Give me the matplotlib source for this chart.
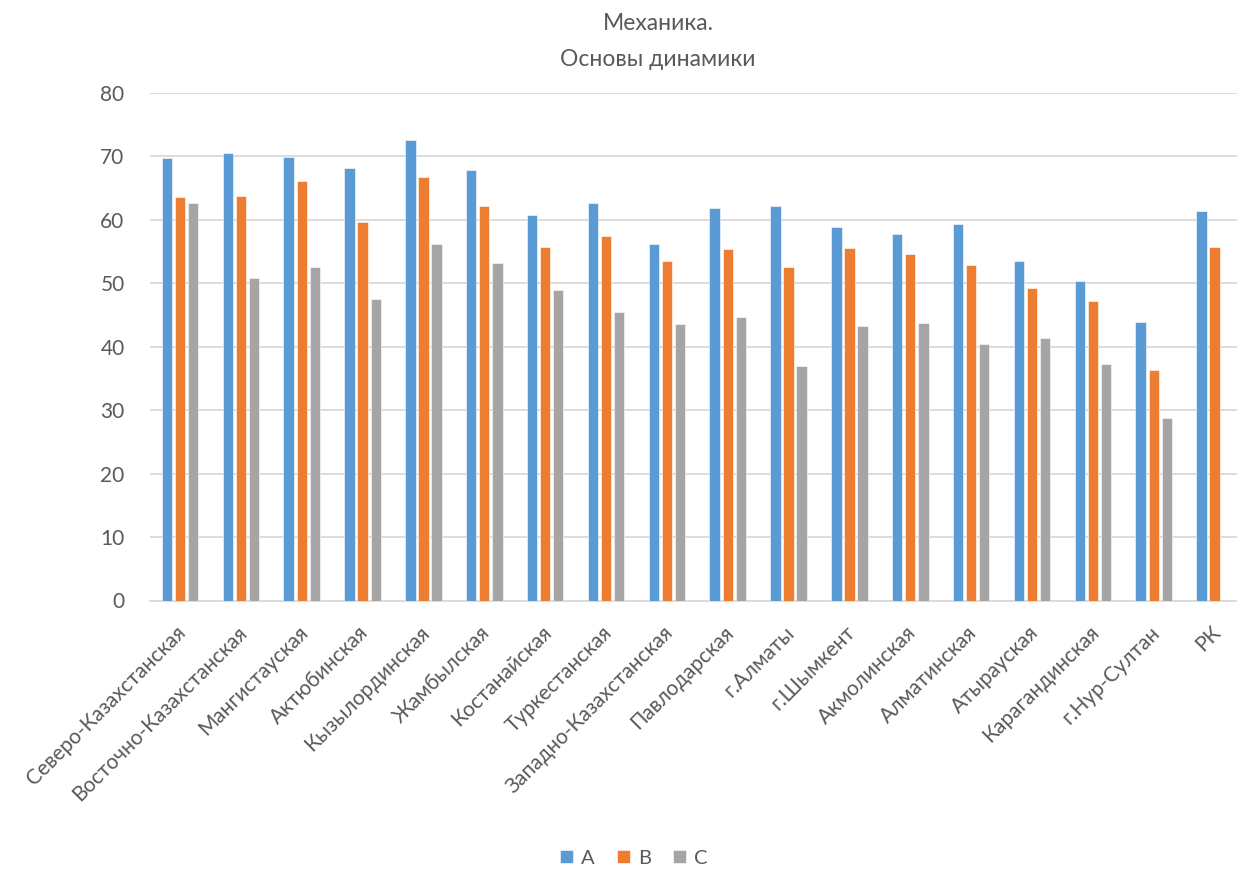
import numpy as np
import matplotlib
matplotlib.use("Agg")
import matplotlib.pyplot as plt
import matplotlib.transforms as mtransforms

plt.rcParams['font.family'] = ['Lato', 'DejaVu Sans']

regions = ["Северо-Казахстанская", "Восточно-Казахстанская", "Мангистауская",
           "Актюбинская", "Кызылординская", "Жамбылская", "Костанайская",
           "Туркестанская", "Западно-Казахстанская", "Павлодарская", "г.Алматы",
           "г.Шымкент", "Акмолинская", "Алматинская", "Атырауская",
           "Карагандинская", "г.Нур-Султан", "РК"]
val_a = [69.8, 70.6, 69.9, 68.2, 72.6, 67.8, 60.7, 62.6, 56.2, 61.9, 62.2,
         58.9, 57.8, 59.3, 53.5, 50.3, 43.9, 61.4]
val_b = [63.6, 63.7, 66.1, 59.6, 66.8, 62.2, 55.7, 57.5, 53.5, 55.4, 52.6,
         55.5, 54.6, 52.9, 49.2, 47.2, 36.3, 55.8]
val_c = [62.6, 50.9, 52.5, 47.6, 56.2, 53.2, 49.0, 45.4, 43.6, 44.7, 36.9,
         43.3, 43.8, 40.4, 41.4, 37.3, 28.7, np.nan]

series = [("A", val_a, "#5B9BD5"), ("B", val_b, "#ED7D31"), ("C", val_c, "#A5A5A5")]
text_col = "#595959"

W, H = 1237, 869
fig = plt.figure(figsize=(W / 100, H / 100), dpi=100)
left, right, bottom, top = 149.6, 1245.0, 600.5, 93.0
ax = fig.add_axes([left / W, 1 - bottom / H, (right - left) / W, (bottom - top) / H])

x = np.arange(len(regions))
width = 0.17
step = 0.215
handles = []
for i, (name, vals, col) in enumerate(series):
    b = ax.bar(x + (i - 1) * step, vals, width, color=col, label=name, zorder=3,
               edgecolor="white", linewidth=0.4)
    handles.append(b)

ax.set_xlim(-0.5, len(regions) - 0.5)
ax.set_ylim(0, 80)
ax.set_yticks(range(0, 81, 10))
ax.yaxis.grid(True, color="#D9D9D9", linewidth=1.3, zorder=0)
for s in ["top", "right", "left"]:
    ax.spines[s].set_visible(False)
ax.spines["bottom"].set_color("#D9D9D9")
ax.spines["bottom"].set_linewidth(1.3)
ax.tick_params(axis="both", length=0, colors=text_col)
ax.tick_params(axis="y", labelsize=15, pad=18)

ax.set_xticks(x)
ax.set_xticklabels(regions, rotation=45, ha="right", va="center",
                   rotation_mode="anchor", fontsize=15, color=text_col)
offset = mtransforms.ScaledTranslation(0.03, -0.24, fig.dpi_scale_trans)
for lab in ax.get_xticklabels():
    lab.set_transform(lab.get_transform() + offset)

fig.text(658 / W, 1 - 23 / H, "Механика.", ha="center", va="center",
         fontsize=16.5, color=text_col)
fig.text(658 / W, 1 - 60 / H, "Основы динамики", ha="center", va="center",
         fontsize=16.5, color=text_col)

fig.legend(handles=handles, loc="center", bbox_to_anchor=(634 / W, 1 - 858 / H),
           ncol=3, frameon=False, fontsize=14.5, handlelength=0.65, handleheight=0.65,
           handletextpad=0.4, columnspacing=1.1, labelcolor=text_col)

fig.savefig("out.png", dpi=100)
